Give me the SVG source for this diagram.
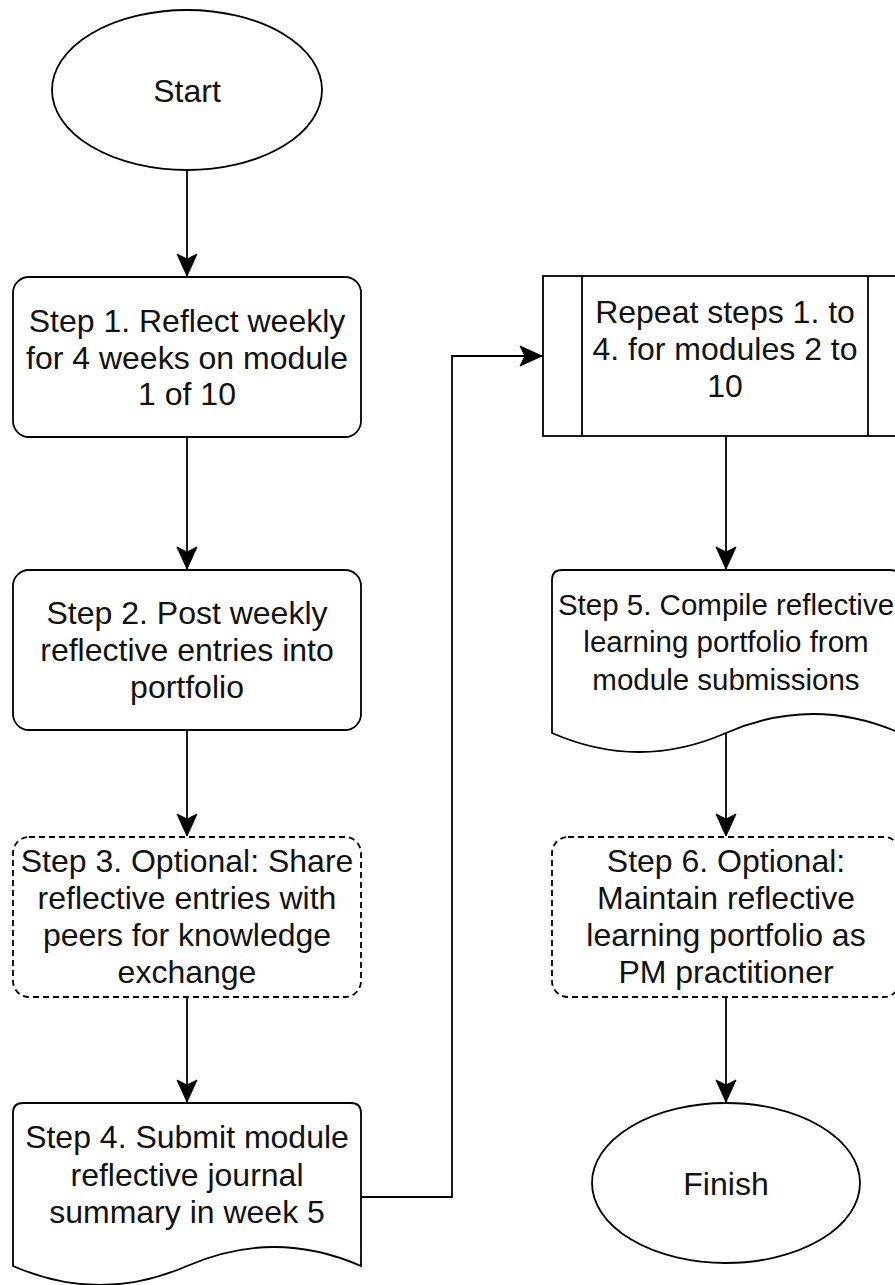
<svg xmlns="http://www.w3.org/2000/svg" width="895" height="1285" viewBox="0 0 895 1285">
  <defs>
    <style>
      .shape { fill: #ffffff; stroke: #000000; stroke-width: 1.8; }
      .dashed { stroke-dasharray: 6 4; }
      .edge { fill: none; stroke: #000000; stroke-width: 1.8; }
      .label { font-family: "Liberation Sans", Arial, Helvetica, sans-serif; font-size: 32px; fill: #111111; text-anchor: middle; }
      .small { font-size: 29.5px; }
      .head { fill: #000000; stroke: #000000; stroke-width: 1; stroke-linejoin: miter; }
    </style>
    <!-- classic notched arrowhead, tip at the path end -->
    <marker id="arrow" markerUnits="userSpaceOnUse" markerWidth="26" markerHeight="24" viewBox="-24 -12 26 24" refX="0" refY="0" orient="auto">
      <path class="head" d="M0,0 L-22,-10 L-17,0 L-22,10 Z"/>
    </marker>
  </defs>

  <rect width="895" height="1285" fill="#ffffff"/>

  <!-- connectors -->
  <g id="connectors">
    <path class="edge" d="M187,170 V276" marker-end="url(#arrow)"/>
    <path class="edge" d="M187,437 V569" marker-end="url(#arrow)"/>
    <path class="edge" d="M187,730 V836" marker-end="url(#arrow)"/>
    <path class="edge" d="M187,997 V1102" marker-end="url(#arrow)"/>
    <path class="edge" d="M361,1197 H452 V356 H542" marker-end="url(#arrow)"/>
    <path class="edge" d="M726,436 V569" marker-end="url(#arrow)"/>
    <path class="edge" d="M726,733 V836" marker-end="url(#arrow)"/>
    <path class="edge" d="M726,997 V1102" marker-end="url(#arrow)"/>
  </g>

  <!-- start terminator -->
  <g id="start">
    <ellipse class="shape" cx="187" cy="90" rx="135" ry="80"/>
    <text class="label" x="187" y="102">Start</text>
  </g>

  <!-- step 1 -->
  <g id="step1">
    <rect class="shape" x="13" y="277" width="348" height="160" rx="16" ry="16"/>
    <text class="label" x="187" y="332">Step 1. Reflect weekly</text>
    <text class="label" x="187" y="368.5">for 4 weeks on module</text>
    <text class="label" x="187" y="405">1 of 10</text>
  </g>

  <!-- step 2 -->
  <g id="step2">
    <rect class="shape" x="13" y="570" width="348" height="160" rx="16" ry="16"/>
    <text class="label" x="187" y="624">Step 2. Post weekly</text>
    <text class="label" x="187" y="661">reflective entries into</text>
    <text class="label" x="187" y="698">portfolio</text>
  </g>

  <!-- step 3 (optional) -->
  <g id="step3">
    <rect class="shape dashed" x="13" y="837" width="348" height="160" rx="16" ry="16"/>
    <text class="label" x="187" y="872">Step 3. Optional: Share</text>
    <text class="label" x="187" y="909">reflective entries with</text>
    <text class="label" x="187" y="946">peers for knowledge</text>
    <text class="label" x="187" y="983">exchange</text>
  </g>

  <!-- step 4 (document) -->
  <g id="step4">
    <path class="shape" d="M13,1113 Q13,1103 23,1103 H351 Q361,1103 361,1113 V1266 Q274,1228 187,1266 Q100,1304 13,1266 Z"/>
    <text class="label" x="187" y="1148">Step 4. Submit module</text>
    <text class="label" x="187" y="1186">reflective journal</text>
    <text class="label" x="187" y="1223">summary in week 5</text>
  </g>

  <!-- repeat (predefined process) -->
  <g id="repeat">
    <rect class="shape" x="543" y="276" width="364" height="160"/>
    <line class="edge" x1="582" y1="276" x2="582" y2="436"/>
    <line class="edge" x1="868" y1="276" x2="868" y2="436"/>
    <text class="label" x="725" y="323">Repeat steps 1. to</text>
    <text class="label" x="725" y="360">4. for modules 2 to</text>
    <text class="label" x="725" y="397">10</text>
  </g>

  <!-- step 5 (document) -->
  <g id="step5">
    <path class="shape" d="M552,580 Q552,570 562,570 H890 Q900,570 900,580 V733 Q813,695 726,733 Q639,771 552,733 Z"/>
    <text class="label small" x="726" y="615">Step 5. Compile reflective</text>
    <text class="label small" x="726" y="652">learning portfolio from</text>
    <text class="label small" x="726" y="690">module submissions</text>
  </g>

  <!-- step 6 (optional) -->
  <g id="step6">
    <rect class="shape dashed" x="552" y="837" width="348" height="160" rx="16" ry="16"/>
    <text class="label" x="726" y="872">Step 6. Optional:</text>
    <text class="label" x="726" y="909">Maintain reflective</text>
    <text class="label" x="726" y="946">learning portfolio as</text>
    <text class="label" x="726" y="983">PM practitioner</text>
  </g>

  <!-- finish terminator -->
  <g id="finish">
    <ellipse class="shape" cx="726" cy="1183" rx="134" ry="80"/>
    <text class="label" x="726" y="1195">Finish</text>
  </g>
</svg>
